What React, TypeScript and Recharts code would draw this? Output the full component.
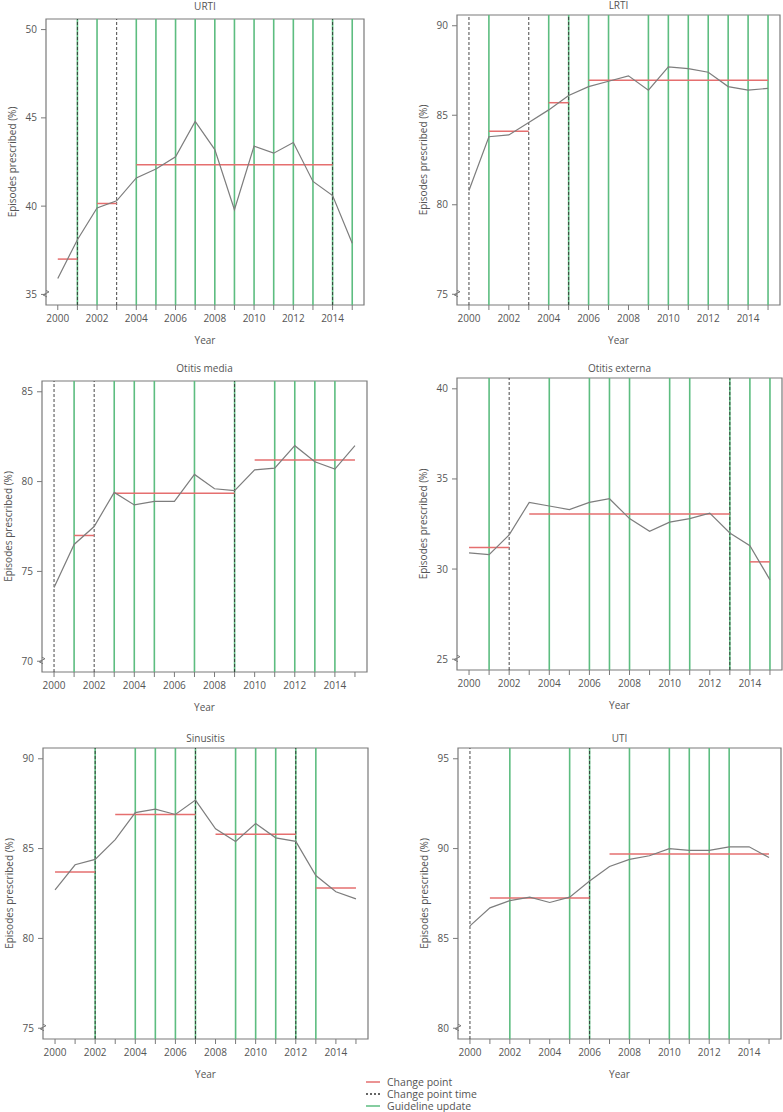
import React from 'react';
import {
  LineChart,
  Line,
  XAxis,
  YAxis,
  ReferenceLine,
  ReferenceArea,
} from 'recharts';

const years = [2000, 2001, 2002, 2003, 2004, 2005, 2006, 2007, 2008, 2009, 2010, 2011, 2012, 2013, 2014, 2015];
const evenYearLabels = ['2000', '2002', '2004', '2006', '2008', '2010', '2012', '2014'];

// episodes prescribed (%) per year
const urtiValues = [35.9, 38.1, 39.9, 40.3, 41.6, 42.1, 42.8, 44.8, 43.2, 39.8, 43.4, 43.0, 43.6, 41.4, 40.6, 37.9];
const lrtiValues = [80.8, 83.8, 83.9, 84.6, 85.3, 86.1, 86.6, 86.9, 87.2, 86.4, 87.7, 87.6, 87.4, 86.6, 86.4, 86.5];
const otitisMediaValues = [74.1, 76.5, 77.5, 79.4, 78.7, 78.9, 78.9, 80.4, 79.6, 79.5, 80.65, 80.75, 82.0, 81.1, 80.7, 82.0];
const otitisExternaValues = [30.9, 30.8, 31.9, 33.7, 33.5, 33.3, 33.7, 33.9, 32.8, 32.1, 32.6, 32.8, 33.1, 32.0, 31.3, 29.4];
const sinusitisValues = [82.7, 84.1, 84.4, 85.5, 87.0, 87.2, 86.9, 87.7, 86.1, 85.4, 86.4, 85.6, 85.4, 83.5, 82.6, 82.2];
const utiValues = [85.7, 86.7, 87.1, 87.3, 87.0, 87.3, 88.2, 89.0, 89.4, 89.6, 90.0, 89.9, 89.9, 90.1, 90.1, 89.5];

// change point segments: [from year, to year, level]
const urtiChangePoints = [[2000, 2001, 37.0], [2002, 2003, 40.15], [2004, 2014, 42.35]];
const lrtiChangePoints = [[2001, 2003, 84.1], [2004, 2005, 85.7], [2006, 2015, 86.95]];
const otitisMediaChangePoints = [[2001, 2002, 77.0], [2003, 2009, 79.35], [2010, 2015, 81.2]];
const otitisExternaChangePoints = [[2000, 2002, 31.2], [2003, 2013, 33.05], [2014, 2015, 30.4]];
const sinusitisChangePoints = [[2000, 2002, 83.7], [2003, 2007, 86.9], [2008, 2012, 85.8], [2013, 2015, 82.8]];
const utiChangePoints = [[2001, 2006, 87.25], [2007, 2015, 89.7]];

// change point times (dashed)
const urtiChangeTimes = [2001, 2003, 2014];
const lrtiChangeTimes = [2000, 2003, 2005];
const otitisMediaChangeTimes = [2000, 2002, 2009];
const otitisExternaChangeTimes = [2002, 2013];
const sinusitisChangeTimes = [2002, 2007, 2012];
const utiChangeTimes = [2000, 2006];

// guideline updates (green)
const urtiGuidelines = [2001, 2002, 2004, 2005, 2006, 2007, 2008, 2009, 2010, 2011, 2012, 2013, 2014, 2015];
const lrtiGuidelines = [2001, 2004, 2005, 2006, 2007, 2009, 2010, 2011, 2012, 2013, 2014, 2015];
const otitisMediaGuidelines = [2001, 2003, 2004, 2005, 2007, 2009, 2011, 2012, 2013, 2014];
const otitisExternaGuidelines = [2001, 2004, 2006, 2007, 2008, 2010, 2011, 2013, 2014, 2015];
const sinusitisGuidelines = [2002, 2004, 2005, 2006, 2007, 2009, 2010, 2011, 2012, 2013];
const utiGuidelines = [2002, 2005, 2006, 2008, 2010, 2011, 2012, 2013];

// y axis bottoms (each axis spans 15 points)
const axisBottoms = [35, 75, 70, 25, 75, 80];
const titles = ['URTI', 'LRTI', 'Otitis media', 'Otitis externa', 'Sinusitis', 'UTI'];

const FONT = '"Open Sans", "DejaVu Sans", sans-serif';
const TEXT = '#555';
const GREEN = '#5dbd80';
const RED = '#e56f6f';
const FRAME = '#7a7a7a';

// plot box of each panel: left, top, width, height, title centre y
const boxes = [
  { left: 46, top: 19, width: 318, height: 286, titleY: 6 },
  { left: 457, top: 15, width: 323, height: 290, titleY: 5 },
  { left: 42, top: 381, width: 325, height: 291, titleY: 368 },
  { left: 457, top: 378, width: 325, height: 292, titleY: 368 },
  { left: 43, top: 748, width: 325, height: 291, titleY: 738 },
  { left: 458, top: 748, width: 323, height: 291, titleY: 738 },
];

const panels = [
  { values: urtiValues, changePoints: urtiChangePoints, changeTimes: urtiChangeTimes, guidelines: urtiGuidelines },
  { values: lrtiValues, changePoints: lrtiChangePoints, changeTimes: lrtiChangeTimes, guidelines: lrtiGuidelines },
  { values: otitisMediaValues, changePoints: otitisMediaChangePoints, changeTimes: otitisMediaChangeTimes, guidelines: otitisMediaGuidelines },
  { values: otitisExternaValues, changePoints: otitisExternaChangePoints, changeTimes: otitisExternaChangeTimes, guidelines: otitisExternaGuidelines },
  { values: sinusitisValues, changePoints: sinusitisChangePoints, changeTimes: sinusitisChangeTimes, guidelines: sinusitisGuidelines },
  { values: utiValues, changePoints: utiChangePoints, changeTimes: utiChangeTimes, guidelines: utiGuidelines },
];

const Y_AXIS_W = 50;
const X_AXIS_H = 45;
const TOP_PAD = 25;

function YTick(props: any) {
  const { x, y, payload, bottom } = props;
  const axisX = x + 9;
  return (
    <g>
      <text x={x} y={y} dy="0.35em" textAnchor="end" fontSize={10} fill={TEXT}>
        {payload.value}
      </text>
      {payload.value === bottom && (
        <path
          d={`M${axisX} ${y - 4} L${axisX + 3} ${y - 2.5} L${axisX - 3} ${y + 0.5} L${axisX + 1} ${y + 2.5}`}
          fill="none"
          stroke={FRAME}
          strokeWidth={1}
        />
      )}
    </g>
  );
}

function Panel({ index }: { index: number }) {
  const p = panels[index];
  const box = boxes[index];
  const bottom = axisBottoms[index];
  const data = years.map((year, i) => ({ year, value: p.values[i] }));
  const yTicks = [bottom, bottom + 5, bottom + 10, bottom + 15];
  const yDomain = [bottom - 0.6, bottom + 15.6];
  const xDomain = [1999.4, 2015.6];

  return (
    <>
      <div
        style={{
          position: 'absolute',
          left: box.left,
          width: box.width,
          top: box.titleY - 7,
          height: 14,
          lineHeight: '14px',
          textAlign: 'center',
          fontSize: 10,
          color: TEXT,
        }}
      >
        {titles[index]}
      </div>
      <div style={{ position: 'absolute', left: box.left - Y_AXIS_W, top: box.top - TOP_PAD }}>
        <LineChart
          width={box.width + Y_AXIS_W + 2}
          height={box.height + TOP_PAD + X_AXIS_H}
          data={data}
          margin={{ top: TOP_PAD, right: 2, left: 0, bottom: 0 }}
        >
          <XAxis
            dataKey="year"
            type="number"
            domain={xDomain}
            allowDataOverflow
            ticks={years}
            interval={0}
            tickFormatter={(v: number) => (evenYearLabels.includes(String(v)) ? String(v) : '')}
            axisLine={false}
            tickLine={{ stroke: FRAME }}
            tickSize={5}
            tickMargin={5}
            tick={{ fontSize: 10, fill: TEXT }}
            height={X_AXIS_H}
            label={{ value: 'Year', position: 'insideBottom', offset: 6, fontSize: 10, fill: TEXT }}
          />
          <YAxis
            type="number"
            domain={yDomain}
            allowDataOverflow
            ticks={yTicks}
            interval={0}
            axisLine={false}
            tickLine={{ stroke: FRAME }}
            tickSize={5}
            tickMargin={4}
            width={Y_AXIS_W}
            tick={<YTick bottom={bottom} />}
            label={{
              value: 'Episodes prescribed (%)',
              angle: -90,
              position: 'insideLeft',
              offset: 16,
              fontSize: 10,
              fill: TEXT,
              style: { textAnchor: 'middle' },
            }}
          />
          <ReferenceArea
            x1={xDomain[0]}
            x2={xDomain[1]}
            y1={yDomain[0]}
            y2={yDomain[1]}
            fill="none"
            stroke={FRAME}
            strokeWidth={1.2}
            ifOverflow="visible"
          />
          {p.guidelines.map((yr) => (
            <ReferenceLine key={`g${yr}`} x={yr} stroke={GREEN} strokeWidth={1.6} />
          ))}
          {p.changeTimes.map((yr) => (
            <ReferenceLine key={`c${yr}`} x={yr} stroke="#333" strokeWidth={0.9} strokeDasharray="3 2" />
          ))}
          {p.changePoints.map(([a, b, v]) => (
            <ReferenceLine
              key={`r${a}`}
              segment={[{ x: a, y: v }, { x: b, y: v }]}
              stroke={RED}
              strokeWidth={1.5}
            />
          ))}
          <Line
            dataKey="value"
            stroke="#7d7d7d"
            strokeWidth={1.2}
            dot={false}
            isAnimationActive={false}
          />
        </LineChart>
      </div>
    </>
  );
}

const legendItems = [
  { label: 'Change point', color: RED, dash: undefined },
  { label: 'Change point time', color: '#333', dash: '2 2' },
  { label: 'Guideline update', color: GREEN, dash: undefined },
];

export default function App() {
  return (
    <div
      style={{
        position: 'absolute',
        left: 0,
        top: 0,
        width: 783,
        height: 1112,
        background: '#fff',
        fontFamily: FONT,
      }}
    >
      {boxes.map((_, i) => (
        <Panel key={i} index={i} />
      ))}
      <div style={{ position: 'absolute', left: 366, top: 1076 }}>
        {legendItems.map((item) => (
          <div key={item.label} style={{ display: 'flex', alignItems: 'center', height: 12 }}>
            <svg width={14} height={6} style={{ marginRight: 7 }}>
              <line
                x1={0}
                y1={3}
                x2={14}
                y2={3}
                stroke={item.color}
                strokeWidth={1.5}
                strokeDasharray={item.dash}
              />
            </svg>
            <span style={{ fontSize: 10.5, color: TEXT, lineHeight: '12px' }}>{item.label}</span>
          </div>
        ))}
      </div>
    </div>
  );
}
